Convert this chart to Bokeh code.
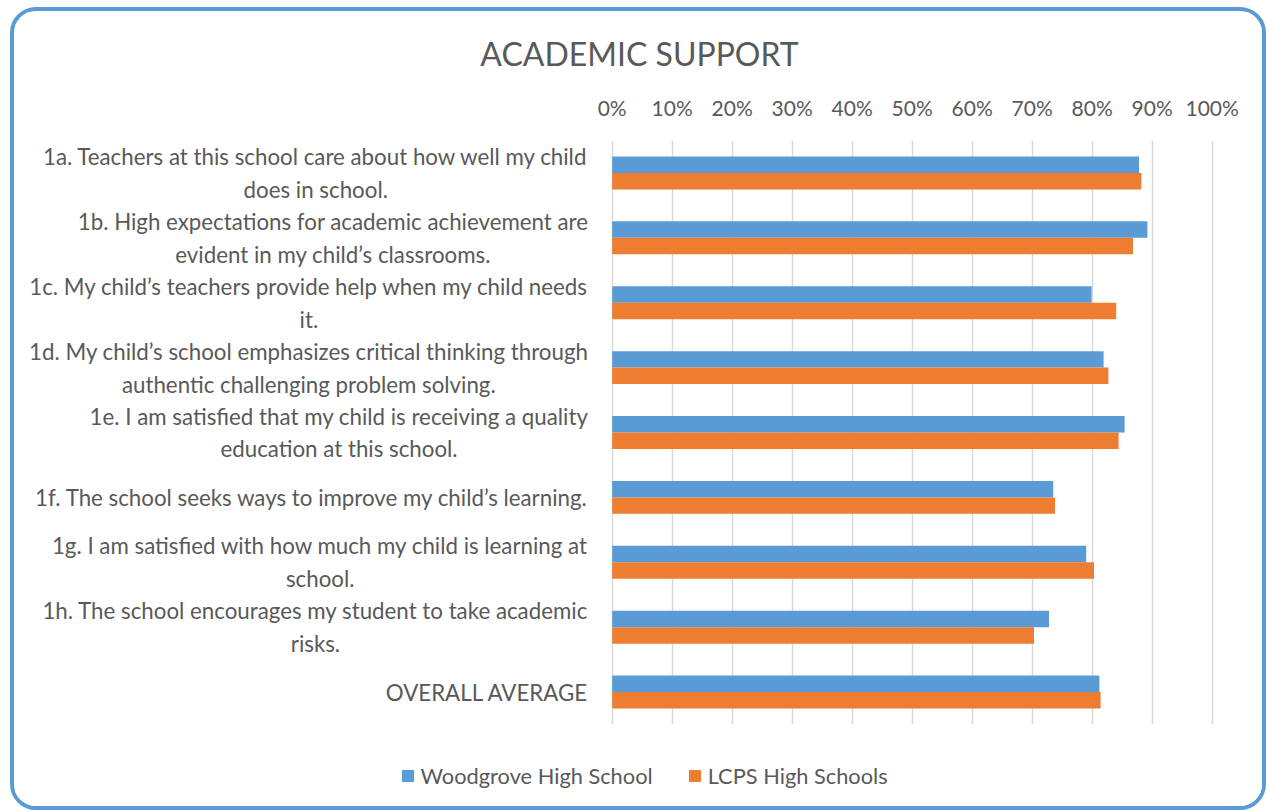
from bokeh.plotting import figure
from bokeh.models import Range1d, FixedTicker, Legend, LegendItem, ColumnDataSource, BoxAnnotation
from bokeh.core.properties import value
from bokeh.embed import file_html
from bokeh.resources import INLINE

# ---------------- data ----------------
categories = [
    "1a. Teachers at this school care about how well my child\ndoes in school.",
    "1b. High expectations for academic achievement are\nevident in my child\u2019s classrooms.",
    "1c. My child\u2019s teachers provide help when my child needs\nit.",
    "1d. My child\u2019s school emphasizes critical thinking through\nauthentic challenging problem solving.",
    "1e. I am satisfied that my child is receiving a quality\neducation at this school.",
    "1f. The school seeks ways to improve my child\u2019s learning.",
    "1g. I am satisfied with how much my child is learning at\nschool.",
    "1h. The school encourages my student to take academic\nrisks.",
    "OVERALL AVERAGE",
]
woodgrove = [87.8, 89.2, 79.9, 81.9, 85.4, 73.5, 79.0, 72.8, 81.2]
lcps = [88.2, 86.8, 84.0, 82.7, 84.4, 73.8, 80.3, 70.3, 81.4]
series_names = ["Woodgrove High School", "LCPS High Schools"]
tick_values = [0, 10, 20, 30, 40, 50, 60, 70, 80, 90, 100]
tick_labels = ["0%", "10%", "20%", "30%", "40%", "50%", "60%", "70%", "80%", "90%", "100%"]
title_text = "ACADEMIC SUPPORT"

# ---------------- layout ----------------
BLUE = "#5B9BD5"
ORANGE = "#ED7D31"
TEXT = "#595959"
FONT = "Lato"

W, H = 1256, 803          # figure size (border box incl. CSS border)
MB_L, MB_R, MB_T, MB_B = 0, 6, 129, 0
frame_w = W - MB_L - MB_R
frame_h = H - MB_T - MB_B
CANVAS_X0, CANVAS_Y0 = 14, 11   # window offset of canvas

zero_win, full_win = 611.7, 1211.7        # window x of 0% and 100%
px_per_unit = (full_win - zero_win) / 100.0
zero_canvas = zero_win - CANVAS_X0 - MB_L
x_start = -zero_canvas / px_per_unit
x_end = x_start + frame_w / px_per_unit

n = len(categories)
bars_top_win, bars_bot_win = 140.0, 724.0
py_per_unit = (bars_bot_win - bars_top_win) / n
y_top = -0.5
y_bot = y_top + frame_h / py_per_unit

def wx(px):
    return x_start + (px - CANVAS_X0 - MB_L) / px_per_unit

idx = list(range(n))
off = 0.127
bh = 0.254
src = ColumnDataSource(dict(
    y_blue=[i - off for i in idx],
    y_orange=[i + off for i in idx],
    blue=woodgrove,
    orange=lcps,
    lab=categories,
    lx=[wx(588)] * n,
    ly=idx,
))

p = figure(width=W, height=H, output_backend="svg", toolbar_location=None,
           x_range=Range1d(x_start, x_end), y_range=Range1d(y_bot, y_top),
           x_axis_location="above", y_axis_location=None,
           min_border_left=MB_L, min_border_right=MB_R,
           min_border_top=MB_T, min_border_bottom=MB_B,
           title=title_text)
p.styles = {
    "border": "4px solid " + BLUE,
    "border-radius": "26px",
    "overflow": "hidden",
    "margin-left": "10px",
    "margin-top": "7px",
}
p.outline_line_color = None
p.background_fill_color = "white"
p.border_fill_color = "white"

p.title.align = "center"
p.title.text_font = FONT
p.title.text_font_size = "32px"
p.title.text_font_style = "normal"
p.title.text_color = TEXT
p.title.standoff = 38

ax = p.xaxis[0]
ax.ticker = FixedTicker(ticks=tick_values)
ax.major_label_overrides = {v: t for v, t in zip(tick_values, tick_labels)}
ax.axis_line_color = None
ax.major_tick_line_color = None
ax.minor_tick_line_color = None
ax.major_tick_out = 0
ax.major_tick_in = 0
ax.major_label_standoff = 21
ax.major_label_text_font = FONT
ax.major_label_text_font_size = "21px"
ax.major_label_text_color = TEXT

p.xgrid.grid_line_color = "#D9D9D9"
p.xgrid.grid_line_width = 1.5
p.ygrid.grid_line_color = None

rb = p.hbar(y="y_blue", right="blue", left=0, height=bh, source=src,
            fill_color=BLUE, line_color=None)
ro = p.hbar(y="y_orange", right="orange", left=0, height=bh, source=src,
            fill_color=ORANGE, line_color=None)

p.text(x="lx", y="ly", text="lab", source=src,
       anchor=value("center_right"), text_align="center", text_baseline="middle",
       text_font=value(FONT), text_font_size="22.3px", text_color=TEXT,
       text_line_height=1.22)

# blank out the gridlines below the category area (legend zone)
p.add_layout(BoxAnnotation(top=n - 0.5, fill_color="white", fill_alpha=1.0,
                           line_color=None, level="annotation"))

legend = Legend(items=[LegendItem(label=series_names[0], renderers=[rb]),
                       LegendItem(label=series_names[1], renderers=[ro])],
                orientation="horizontal",
                location=(401 - 1.5 - CANVAS_X0 - MB_L, 814 - 788.5),
                glyph_width=15, glyph_height=15, label_standoff=6, spacing=34,
                padding=0, margin=0, border_line_color=None,
                background_fill_alpha=0,
                label_text_font=FONT, label_text_font_size="21.8px",
                label_text_color=TEXT)
p.add_layout(legend)

open("out.html", "w").write(file_html(p, INLINE))
